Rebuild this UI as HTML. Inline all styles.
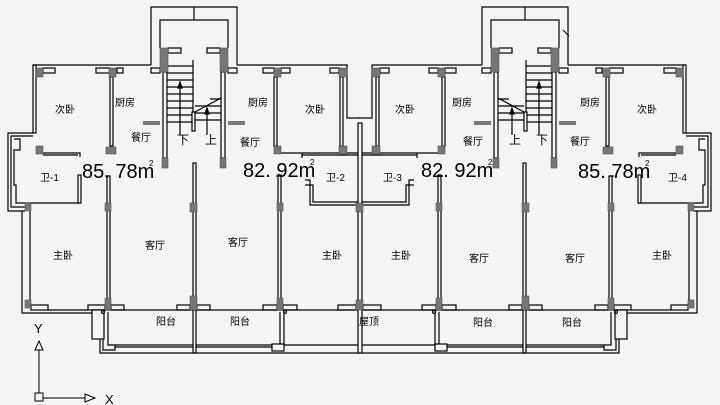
<!DOCTYPE html>
<html><head><meta charset="utf-8"><style>
html,body{margin:0;padding:0;background:#f4f4f4;}
svg{display:block;}
text{font-family:"Liberation Sans","Noto Sans CJK SC",sans-serif;fill:#000;}
.l{font-size:10px;}
.a{font-size:20px;}
</style></head><body>
<svg width="720" height="405" viewBox="0 0 720 405" xmlns="http://www.w3.org/2000/svg">
<rect width="720" height="405" fill="#f4f4f4"/>
<defs>
<g id="half" fill="none" stroke="#000" stroke-width="1.2">
  <path d="M151,65 V7 H237 V65"/>
  <path d="M160,48 V20 H228 V48"/>
  <line x1="194" y1="7" x2="194" y2="20"/>
  <rect x="168" y="48" width="13" height="5" fill="#f4f4f4"/>
  <rect x="207" y="48" width="13" height="5" fill="#f4f4f4"/>
  <rect x="151" y="68" width="9" height="5" fill="#f4f4f4"/>
  <rect x="228" y="68" width="9" height="5" fill="#f4f4f4"/>
  <rect x="163" y="72" width="4" height="86" fill="#f4f4f4"/>
  <rect x="221" y="72" width="4" height="86" fill="#f4f4f4"/>
  <path d="M167,66H193M167,73H193M167,80H193M167,87H193M167,94H193M167,101H193M167,108H193M167,115H193M167,122H193"/>
  <line x1="193" y1="60" x2="193" y2="128"/>
  <path d="M195,106H221M195,113H221M195,120H221M210,99H221"/>
  <line x1="195" y1="112" x2="221" y2="98"/>
  <rect x="192" y="112" width="3" height="19" fill="#f4f4f4"/>
  <line x1="180" y1="135" x2="180" y2="86"/>
  <path d="M178,88 L180,82 L182,88Z" fill="#000"/>
  <line x1="207" y1="135" x2="207" y2="112"/>
  <path d="M205,114 L207,108 L209,114Z" fill="#000"/>
  <line x1="33" y1="65" x2="151" y2="65"/>
  <path d="M237,65 H347 V118 H360"/>
  <rect x="33" y="65" width="3" height="68" fill="#f4f4f4"/>
  <rect x="110" y="77" width="3" height="69" fill="#f4f4f4"/>
  <rect x="274" y="77" width="3" height="69" fill="#f4f4f4"/>
  <rect x="340" y="77" width="3" height="69" fill="#f4f4f4"/>
  <rect x="43" y="68" width="12" height="5" fill="#f4f4f4"/>
  <rect x="96" y="68" width="14" height="5" fill="#f4f4f4"/>
  <rect x="117" y="68" width="6" height="5" fill="#f4f4f4"/>
  <rect x="263" y="68" width="11" height="5" fill="#f4f4f4"/>
  <rect x="281" y="68" width="9" height="5" fill="#f4f4f4"/>
  <rect x="330" y="68" width="9" height="5" fill="#f4f4f4"/>
  <path d="M143,122H160M143,124H160M228,122H245M228,124H245" stroke-width="1"/>
  <path d="M43,153H80V157M43,155H78"/>
  <path d="M281,153H339M347,153H360M302,153V158M302,155H360"/>
  <path d="M33,133 H8 V211 H25"/>
  <path d="M33,136 H11 V207 H25"/>
  <path d="M14,139 H20 V150 H14 V185 H16 V203 H80 V175"/>
  <rect x="78" y="175" width="3" height="28" fill="#f4f4f4"/>
  <path d="M305,180 H310 V205 H358"/>
  <path d="M305,185 H313 V202 H358"/>
  <rect x="193" y="163" width="3" height="190" fill="#f4f4f4"/>
  <rect x="107" y="176" width="3" height="130" fill="#f4f4f4"/>
  <path d="M105,176H110"/>
  <rect x="278" y="175" width="3" height="131" fill="#f4f4f4"/>
  <path d="M276,176H281"/>
  <path d="M22,211 V313 H92"/>
  <path d="M30,211 V300"/>
  <path d="M48,310 H88"/>
  <rect x="31" y="305" width="17" height="5" fill="#f4f4f4"/>
  <rect x="88" y="305" width="17" height="5" fill="#f4f4f4"/>
  <rect x="111" y="305" width="13" height="5" fill="#f4f4f4"/>
  <rect x="177" y="305" width="13" height="5" fill="#f4f4f4"/>
  <rect x="197" y="305" width="13" height="5" fill="#f4f4f4"/>
  <rect x="263" y="305" width="14" height="5" fill="#f4f4f4"/>
  <rect x="283" y="305" width="14" height="5" fill="#f4f4f4"/>
  <rect x="338" y="305" width="18" height="5" fill="#f4f4f4"/>
  <line x1="92" y1="310" x2="360" y2="310"/>
  <rect x="92" y="310" width="12" height="29" fill="#f4f4f4"/>
  <path d="M108,312 V345 H193 M196,345 H280 V312"/>
  <path d="M115,347 H193 M196,347 H272"/>
  <path d="M103,339 V350 H115 V345"/>
  <path d="M100,339 V353 H360"/>
  <rect x="272" y="344" width="12" height="7" fill="#f4f4f4"/>
  <path d="M284,312 V345 H360"/>
  <circle cx="103" cy="312" r="1.5"/>
  <circle cx="285" cy="312" r="1.5"/>
  <g fill="#777" stroke="#555" stroke-width="0.6">
    <rect x="160" y="48" width="8" height="24"/>
    <rect x="220" y="48" width="8" height="24"/>
    <rect x="162" y="158" width="6" height="10"/>
    <rect x="220" y="158" width="6" height="10"/>
    <rect x="36" y="68" width="7" height="9"/>
    <rect x="109" y="68" width="7" height="9"/>
    <rect x="274" y="68" width="7" height="9"/>
    <rect x="339" y="68" width="8" height="9"/>
    <rect x="36" y="146" width="7" height="8"/>
    <rect x="106" y="147" width="10" height="7"/>
    <rect x="274" y="146" width="7" height="8"/>
    <rect x="339" y="146" width="8" height="8"/>
    <rect x="25" y="203" width="6" height="8"/>
    <rect x="105" y="203" width="6" height="8"/>
    <rect x="190" y="203" width="7" height="9"/>
    <rect x="277" y="203" width="6" height="8"/>
    <rect x="25" y="300" width="6" height="8"/>
    <rect x="105" y="298" width="6" height="12"/>
    <rect x="190" y="296" width="7" height="14"/>
    <rect x="277" y="298" width="6" height="12"/>
  </g>
</g>
</defs>
<use href="#half"/>
<use href="#half" transform="translate(719,0) scale(-1,1)"/>
<rect x="358" y="123" width="4" height="230" fill="#f4f4f4" stroke="#000" stroke-width="1.2"/>
<rect x="356" y="203" width="7" height="9" fill="#777" stroke="#555" stroke-width="0.6"/>
<rect x="356" y="300" width="7" height="10" fill="#777" stroke="#555" stroke-width="0.6"/>
<line x1="563" y1="30" x2="569" y2="36" stroke="#000"/>
<g stroke="#000" fill="none" stroke-width="1">
  <line x1="39" y1="350" x2="39" y2="393"/>
  <path d="M35,350 L39,341 L43,350Z"/>
  <rect x="35" y="393" width="8" height="8"/>
  <line x1="43" y1="398" x2="85" y2="398"/>
  <path d="M85,394 L95,398 L85,402Z"/>
</g>
<text x="34" y="333" style="font-size:13px">Y</text>
<text x="105" y="404" style="font-size:13px">X</text>
<g class="l">
<text x="55" y="113">次卧</text>
<text x="115" y="106">厨房</text>
<text x="131" y="141">餐厅</text>
<text x="177" y="144" style="font-size:12px">下</text>
<text x="205" y="144" style="font-size:12px">上</text>
<text x="248" y="106">厨房</text>
<text x="240" y="146">餐厅</text>
<text x="305" y="113">次卧</text>
<text x="40" y="181">卫-1</text>
<text x="326" y="181">卫-2</text>
<text x="383" y="181">卫-3</text>
<text x="668" y="181">卫-4</text>
<text x="395" y="113">次卧</text>
<text x="452" y="106">厨房</text>
<text x="463" y="145">餐厅</text>
<text x="509" y="144" style="font-size:12px">上</text>
<text x="536" y="144" style="font-size:12px">下</text>
<text x="580" y="106">厨房</text>
<text x="570" y="145">餐厅</text>
<text x="637" y="113">次卧</text>
<text x="53" y="259">主卧</text>
<text x="145" y="249">客厅</text>
<text x="228" y="246">客厅</text>
<text x="322" y="259">主卧</text>
<text x="391" y="259">主卧</text>
<text x="469" y="262">客厅</text>
<text x="565" y="262">客厅</text>
<text x="652" y="259">主卧</text>
<text x="156" y="325">阳台</text>
<text x="230" y="325">阳台</text>
<text x="359" y="325">屋顶</text>
<text x="473" y="326">阳台</text>
<text x="562" y="326">阳台</text>
</g>
<g class="a">
<text x="82" y="178">85. 78m</text><text x="149" y="166" style="font-size:8px">2</text>
<text x="243" y="177">82. 92m</text><text x="310" y="165" style="font-size:8px">2</text>
<text x="421" y="177">82. 92m</text><text x="488" y="165" style="font-size:8px">2</text>
<text x="578" y="178">85. 78m</text><text x="645" y="166" style="font-size:8px">2</text>
</g>
</svg>
</body></html>
